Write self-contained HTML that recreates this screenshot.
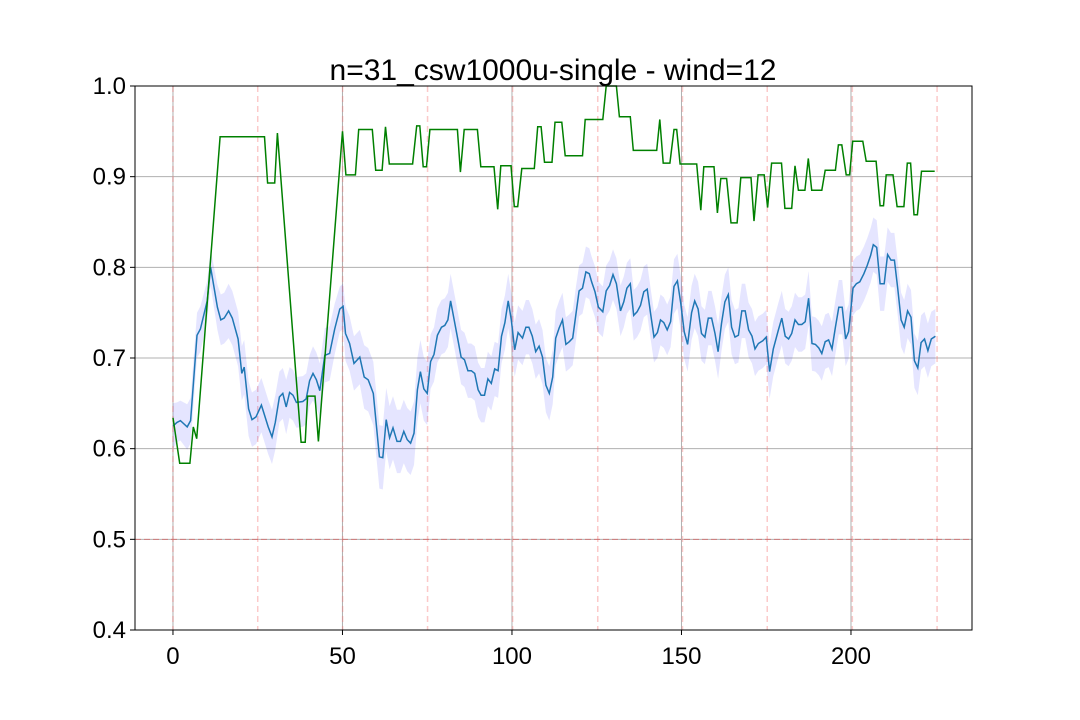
<!DOCTYPE html>
<html><head><meta charset="utf-8"><style>
html,body{margin:0;padding:0;background:#fff;}
svg{display:block;font-family:"Liberation Sans","DejaVu Sans",sans-serif;}
</style></head><body>
<svg id="chart" width="1080" height="720">
<rect width="1080" height="720" fill="#fff"/>
<text x="553" y="80" font-size="30" text-anchor="middle">n=31_csw1000u-single - wind=12</text>
<g id="grid"></g>
<g id="marks"></g>
<g id="axes"></g>
</svg>
<script>
const xTicks=[0,50,100,150,200];
const yTicks=[0.4,0.5,0.6,0.7,0.8,0.9,1.0];
const yTickLabels=["0.4","0.5","0.6","0.7","0.8","0.9","1.0"];
const markerX=[0,25,50.05,75.1,100.2,125.3,150.3,175.3,200.4,225.4];
const refY=[0.5];
const greenX=[0,2,5,6,7,13.9,27,27.9,30,30.8,37.8,39,39.7,41.9,42.9,50,51,53.8,54.8,58.8,59.8,61.7,62.7,63.8,70.7,71.9,72.8,73.8,74.8,75.8,83.9,84.8,85.9,89.8,90.8,94.7,95.8,96.7,99.7,100.7,101.7,102.9,106.6,107.6,108.6,109.6,111.8,112.7,114.7,115.7,120.8,121.6,126.8,127.8,130.8,131.7,134.9,135.8,142.7,143.6,144.6,146.6,147.8,148.6,149.6,154.5,155.7,156.6,159.6,160.6,161.6,163.3,164.6,166.4,167.5,170.5,171.4,172.6,174.4,175.4,176.6,179.5,180.5,182.5,183.5,184.5,186.4,187.4,188.4,191.4,192.4,195.4,196.3,197.3,198.6,199.6,200.5,203.5,204.5,207.4,208.6,209.6,210.4,212.4,213.6,215.6,216.6,217.6,218.6,219.6,220.8,224.7];
const greenY=[0.634,0.584,0.584,0.624,0.611,0.944,0.944,0.893,0.893,0.948,0.607,0.607,0.658,0.658,0.608,0.950,0.902,0.902,0.952,0.952,0.907,0.907,0.955,0.914,0.914,0.956,0.956,0.911,0.911,0.952,0.952,0.905,0.952,0.952,0.911,0.911,0.864,0.912,0.912,0.867,0.867,0.909,0.909,0.955,0.955,0.916,0.916,0.960,0.960,0.923,0.923,0.963,0.963,1.0,1.0,0.966,0.966,0.929,0.929,0.963,0.915,0.915,0.952,0.952,0.914,0.914,0.863,0.911,0.911,0.860,0.898,0.898,0.849,0.849,0.899,0.899,0.851,0.902,0.902,0.866,0.915,0.915,0.865,0.865,0.912,0.885,0.885,0.920,0.885,0.885,0.907,0.907,0.935,0.935,0.902,0.902,0.939,0.939,0.917,0.917,0.868,0.868,0.902,0.902,0.867,0.867,0.915,0.915,0.858,0.858,0.906,0.906];
const blueX=[0,1.2,2.2,4.2,5.2,7.1,8.1,10.1,11.1,13.1,14.1,15.1,16.4,17.5,19.2,20.3,21,22.3,23.3,24.5,26.1,28.1,29.2,30.2,31.4,32.4,33.4,34.4,35.4,36.4,38.3,39.3,40.3,41.3,42.3,43.3,44.8,46.2,47.7,49.2,50.2,50.9,52.1,53.4,55.1,56.4,57.6,59.1,60.9,61.9,62.9,63.9,64.9,66.1,67.1,68.1,69.1,70.1,71.1,72.1,73,74,75,76,77,78,79.2,80.2,81.1,81.9,82.9,84.1,85,86,87,88,89,90,90.9,91.9,92.9,93.9,94.9,95.9,96.9,97.9,98.9,99.8,100.8,101.8,103.1,104.1,105,106,107,108,109,110,111,112,112.9,113.9,114.9,115.9,116.9,117.9,118.9,119.8,120.8,121.8,122.8,123.5,124.5,125.5,126.8,127.8,128.8,129.8,130.8,132,133,133.9,134.9,135.9,136.9,137.9,138.9,139.9,140.9,141.9,142.9,143.8,144.8,145.8,146.8,147.8,148.8,149.8,150.8,151.8,153,153.9,154.9,155.9,156.9,157.9,158.9,159.9,160.8,161.8,162.8,163.8,164.8,165.8,166.8,167.8,168.8,169.8,170.8,171.7,172.7,174,175,176,177.1,178.6,179.6,180.6,181.6,182.5,183.5,184.5,185.5,186.5,187.5,188.5,189.5,190.5,191.4,192.4,193.4,194.4,195.4,196.4,197.4,198.4,199.3,200.6,201.6,202.6,203.8,204.8,205.8,206.6,207.6,208.6,209.8,210.8,211.8,212.8,213.8,214.8,215.7,216.7,217.7,218.7,219.7,220.7,221.7,222.7,223.7,224.9];
const blueY=[0.625,0.629,0.631,0.624,0.631,0.725,0.732,0.763,0.800,0.756,0.742,0.744,0.752,0.744,0.721,0.683,0.690,0.644,0.632,0.635,0.648,0.624,0.613,0.629,0.657,0.661,0.646,0.662,0.659,0.651,0.652,0.655,0.675,0.683,0.676,0.664,0.703,0.705,0.732,0.754,0.757,0.727,0.716,0.694,0.701,0.679,0.676,0.661,0.591,0.590,0.632,0.612,0.623,0.608,0.608,0.619,0.610,0.606,0.617,0.665,0.685,0.666,0.661,0.696,0.704,0.725,0.734,0.736,0.742,0.763,0.743,0.719,0.701,0.698,0.686,0.686,0.683,0.665,0.659,0.659,0.677,0.672,0.688,0.686,0.724,0.739,0.763,0.742,0.709,0.728,0.722,0.734,0.734,0.724,0.707,0.713,0.701,0.670,0.661,0.679,0.722,0.733,0.742,0.715,0.718,0.722,0.749,0.774,0.777,0.795,0.793,0.784,0.773,0.756,0.751,0.774,0.780,0.792,0.782,0.752,0.762,0.777,0.782,0.747,0.751,0.758,0.773,0.776,0.749,0.723,0.728,0.742,0.739,0.731,0.740,0.779,0.785,0.760,0.729,0.715,0.750,0.763,0.754,0.727,0.723,0.744,0.744,0.727,0.707,0.738,0.762,0.770,0.734,0.723,0.725,0.752,0.752,0.731,0.724,0.710,0.716,0.719,0.723,0.685,0.710,0.731,0.744,0.724,0.721,0.727,0.742,0.737,0.737,0.740,0.766,0.716,0.715,0.711,0.705,0.718,0.720,0.710,0.734,0.756,0.756,0.721,0.729,0.777,0.782,0.784,0.793,0.802,0.813,0.825,0.822,0.782,0.782,0.814,0.808,0.808,0.776,0.742,0.734,0.752,0.745,0.697,0.689,0.717,0.721,0.708,0.721,0.724];
const blueSpread=[0.025,0.022,0.022,0.025,0.025,0.025,0.025,0.022,0.02,0.025,0.028,0.028,0.03,0.03,0.03,0.03,0.03,0.03,0.03,0.03,0.03,0.03,0.03,0.03,0.028,0.028,0.03,0.028,0.028,0.028,0.028,0.028,0.028,0.03,0.03,0.03,0.03,0.03,0.028,0.025,0.025,0.03,0.03,0.03,0.03,0.035,0.035,0.035,0.035,0.035,0.035,0.035,0.035,0.035,0.035,0.035,0.035,0.035,0.035,0.035,0.035,0.035,0.035,0.03,0.03,0.03,0.03,0.03,0.03,0.03,0.03,0.03,0.03,0.03,0.03,0.03,0.03,0.03,0.03,0.03,0.03,0.03,0.03,0.03,0.03,0.03,0.03,0.03,0.03,0.03,0.03,0.03,0.03,0.03,0.03,0.03,0.03,0.03,0.03,0.03,0.03,0.03,0.03,0.03,0.03,0.03,0.03,0.028,0.028,0.028,0.028,0.028,0.028,0.028,0.028,0.028,0.028,0.028,0.028,0.028,0.028,0.028,0.028,0.028,0.028,0.028,0.028,0.028,0.028,0.028,0.028,0.028,0.028,0.028,0.028,0.03,0.03,0.03,0.03,0.03,0.03,0.03,0.03,0.03,0.03,0.03,0.03,0.03,0.03,0.03,0.03,0.03,0.03,0.03,0.03,0.03,0.03,0.03,0.03,0.03,0.03,0.03,0.03,0.03,0.03,0.03,0.03,0.03,0.03,0.03,0.03,0.03,0.03,0.03,0.03,0.03,0.03,0.03,0.03,0.03,0.03,0.03,0.03,0.03,0.03,0.03,0.03,0.03,0.03,0.03,0.03,0.03,0.03,0.03,0.03,0.03,0.03,0.03,0.03,0.03,0.03,0.03,0.03,0.03,0.03,0.03,0.03,0.03,0.03,0.03,0.03,0.03,0.03];

const L=135,R=972,T=86,B=630;
const xMin=-11.2,xMax=235.7,yMin=0.4,yMax=1.0;
function sx(v){return L+(v-xMin)/(xMax-xMin)*(R-L);}
function sy(v){return B-(v-yMin)/(yMax-yMin)*(B-T);}
const NS="http://www.w3.org/2000/svg";
function mk(tag,attrs,parent){const e=document.createElementNS(NS,tag);for(const k in attrs)e.setAttribute(k,attrs[k]);parent.appendChild(e);return e;}
const grid=document.getElementById('grid'),marks=document.getElementById('marks'),axes=document.getElementById('axes');

yTicks.forEach((v,i)=>{
  const g=mk('line',{x1:L,x2:R,y1:sy(v),y2:sy(v),stroke:'#b0b0b0','stroke-width':1},grid);
  
  
  const t=mk('line',{x1:L-5,x2:L,y1:sy(v),y2:sy(v),stroke:'#000','stroke-width':1},axes);
  
  
  const lb=mk('text',{x:L-9,y:sy(v)+8,'font-size':24,'text-anchor':'end'},axes);
  lb.textContent=yTickLabels[i];
  
  
});
xTicks.forEach(v=>{
  const g=mk('line',{x1:sx(v),x2:sx(v),y1:T,y2:B,stroke:'#b0b0b0','stroke-width':1},grid);
  
  
  const t=mk('line',{x1:sx(v),x2:sx(v),y1:B,y2:B+5,stroke:'#000','stroke-width':1},axes);
  
  
  const lb=mk('text',{x:sx(v),y:B+34,'font-size':24,'text-anchor':'middle'},axes);
  lb.textContent=String(v);
  
  
});
markerX.forEach(v=>{
  const m=mk('line',{x1:sx(v),x2:sx(v),y1:T,y2:B,stroke:'rgba(245,120,120,0.4)','stroke-width':1.5,'stroke-dasharray':'6,4'},grid);
  
  
});
refY.forEach(v=>{
  const m=mk('line',{x1:L,x2:R,y1:sy(v),y2:sy(v),stroke:'rgba(220,80,80,0.6)','stroke-width':1,'stroke-dasharray':'6,3'},grid);
  
  
});

let up=[],lo=[];
blueX.forEach((x,i)=>{const s=blueSpread[i]!==undefined?blueSpread[i]:0.03;up.push(sx(x).toFixed(1)+','+sy(blueY[i]+s).toFixed(1));lo.push(sx(x).toFixed(1)+','+sy(blueY[i]-s).toFixed(1));});
const band=mk('polygon',{points:up.concat(lo.reverse()).join(' '),fill:'rgba(0,0,255,0.1)',stroke:'none'},marks);


const bl=mk('polyline',{points:blueX.map((x,i)=>sx(x).toFixed(1)+','+sy(blueY[i]).toFixed(1)).join(' '),fill:'none',stroke:'#1f77b4','stroke-width':1.5},marks);


const gl=mk('polyline',{points:greenX.map((x,i)=>sx(x).toFixed(1)+','+sy(greenY[i]).toFixed(1)).join(' '),fill:'none',stroke:'green','stroke-width':1.5},marks);



const fr=mk('rect',{x:L,y:T,width:R-L,height:B-T,fill:'none',stroke:'#000','stroke-width':1},axes);


</script>
</body></html>
